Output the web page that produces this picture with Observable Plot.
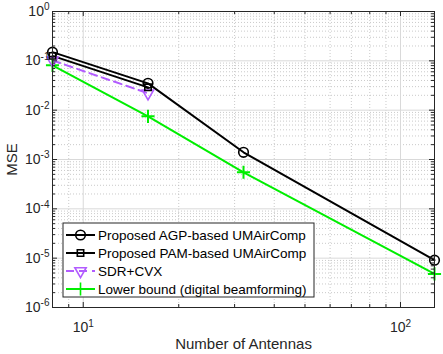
<!DOCTYPE html>
<html><head><meta charset="utf-8">
<script src="https://cdn.jsdelivr.net/npm/d3@7"></script>
<script src="https://cdn.jsdelivr.net/npm/@observablehq/plot@0.6"></script>
<style>body{margin:0;background:#fff;font-family:"Liberation Sans",Arial,sans-serif}</style>
</head><body><div id="chart"></div>
<script>
// ---- data ----
const antennas = [8, 16, 32, 128];
const agpMSE = [0.15, 0.035, 1.4e-3, 9.1e-6];
const pamAntennas = [8, 16];
const pamMSE = [0.126, 0.029];
const sdrAntennas = [8, 16];
const sdrMSE = [0.102, 0.022];
const lowerMSE = [0.081, 7.5e-3, 5.5e-4, 4.8e-6];

const seriesNames = ["Proposed AGP-based UMAirComp", "Proposed PAM-based UMAirComp", "SDR+CVX", "Lower bound (digital beamforming)"];
const xMajorTicks = [10, 100];
const xMinorTicks = [8, 9, 20, 30, 40, 50, 60, 70, 80, 90];
const yMajorTicks = [1e-6, 1e-5, 1e-4, 1e-3, 1e-2, 1e-1, 1];
const yMinorMult = [2, 3, 4, 5, 6, 7, 8, 9];
const yMinorTicks = yMajorTicks.slice(0, -1).flatMap(d => yMinorMult.map(m => m * d));

const W = 443, H = 354, ML = 52, MR = 9, MT = 11, MB = 47;
const PW = W - ML - MR, PH = H - MT - MB;
const BLACK = "#000", PURPLE = "#b25cff", GREEN = "#00ee00", AX = "#262626";

const tbl = (xs, ys) => xs.map((n, i) => ({n, v: ys[i]}));
const agp = tbl(antennas, agpMSE), pam = tbl(pamAntennas, pamMSE), sdr = tbl(sdrAntennas, sdrMSE), low = tbl(antennas, lowerMSE);

const svg = Plot.plot({
  width: W, height: H,
  marginLeft: ML, marginRight: MR, marginTop: MT, marginBottom: MB,
  style: {fontFamily: "Liberation Sans, Arial, sans-serif", color: AX, background: "#fff"},
  x: {type: "log", domain: [8, 128]},
  y: {type: "log", domain: [1e-6, 1]},
  marks: [
    // minor grid
    Plot.ruleX(xMinorTicks, {x: d => d, stroke: "#bdbdbd", strokeDasharray: "1,2", strokeWidth: 0.8}),
    Plot.ruleY(yMinorTicks, {y: d => d, stroke: "#bdbdbd", strokeDasharray: "1,2", strokeWidth: 0.8}),
    // major grid
    Plot.ruleX(xMajorTicks, {x: d => d, stroke: "#d9d9d9", strokeWidth: 1}),
    Plot.ruleY(yMajorTicks, {y: d => d, stroke: "#d9d9d9", strokeWidth: 1}),
    // series
    Plot.line(low, {x: "n", y: "v", stroke: GREEN, strokeWidth: 2}),
    Plot.line(sdr, {x: "n", y: "v", stroke: PURPLE, strokeWidth: 2, strokeDasharray: "8,5"}),
    Plot.line(pam, {x: "n", y: "v", stroke: BLACK, strokeWidth: 2}),
    Plot.line(agp, {x: "n", y: "v", stroke: BLACK, strokeWidth: 2}),
    Plot.dot(low, {x: "n", y: "v", symbol: "plus", r: 4.3, stroke: GREEN, strokeWidth: 2}),
    Plot.dot(sdr, {x: "n", y: "v", symbol: "triangle", rotate: 180, r: 4.2, stroke: PURPLE, strokeWidth: 1.6, fill: "none"}),
    Plot.dot(pam, {x: "n", y: "v", symbol: "square", r: 3.6, stroke: BLACK, strokeWidth: 1.6, fill: "none"}),
    Plot.dot(agp, {x: "n", y: "v", symbol: "circle", r: 4.8, stroke: BLACK, strokeWidth: 1.6, fill: "none"}),
    // inward ticks (box on)
    Plot.tickX(xMajorTicks, {x: d => d, insetTop: PH - 5, stroke: AX}),
    Plot.tickX(xMajorTicks, {x: d => d, insetBottom: PH - 5, stroke: AX}),
    Plot.tickX(xMinorTicks, {x: d => d, insetTop: PH - 3, stroke: AX}),
    Plot.tickX(xMinorTicks, {x: d => d, insetBottom: PH - 3, stroke: AX}),
    Plot.tickY(yMajorTicks, {y: d => d, insetRight: PW - 5, stroke: AX}),
    Plot.tickY(yMajorTicks, {y: d => d, insetLeft: PW - 5, stroke: AX}),
    Plot.tickY(yMinorTicks, {y: d => d, insetRight: PW - 3, stroke: AX}),
    Plot.tickY(yMinorTicks, {y: d => d, insetLeft: PW - 3, stroke: AX}),
    Plot.frame({stroke: AX, strokeWidth: 1}),
    // axes
    Plot.axisX({ticks: xMajorTicks, tickFormat: d => "10^" + Math.round(Math.log10(d)), tickSize: 0, tickPadding: 15, fontSize: 14,
      label: "Number of Antennas", labelAnchor: "center", labelArrow: "none", labelOffset: 41}),
    Plot.axisY({ticks: yMajorTicks, tickFormat: d => "10^" + Math.round(Math.log10(d)), tickSize: 0, tickPadding: 3, fontSize: 14,
      label: "MSE", labelAnchor: "center", labelArrow: "none", labelOffset: 46})
  ]
});

// superscripts on tick labels
function supify(node) {
  const t = d3.select(node);
  const s = t.text();
  if (s.startsWith("10^")) {
    const exp = s.slice(3);
    t.text("10");
    const host = node.tagName === "tspan" ? d3.select(node.parentNode) : t;
    host.append("tspan").attr("dy", "-0.55em").attr("font-size", "10px").text(exp);
  }
}
d3.select(svg).selectAll("text").each(function() {
  const tsp = d3.select(this).selectAll("tspan");
  if (tsp.size() === 0) supify(this); else tsp.nodes().forEach(supify);
});
// axis label sizes
d3.select(svg).selectAll('g[aria-label="x-axis label"] text, g[aria-label="y-axis label"] text').attr("font-size", "15px").attr("fill", AX);

// legend (inside plot, lower left)
const lg = d3.select(svg).append("g").attr("font-size", "13.5px").attr("fill", "#000").attr("text-anchor", "start");
const lx = 63, ly = 223, lw = 251, lh = 74;
lg.append("rect").attr("x", lx).attr("y", ly).attr("width", lw).attr("height", lh).attr("fill", "#fff").attr("stroke", AX).attr("stroke-width", 1);
const styles = [
  {stroke: BLACK, dash: null, sym: d3.symbolCircle, r: 4.8},
  {stroke: BLACK, dash: null, sym: d3.symbolSquare, r: 3.6},
  {stroke: PURPLE, dash: "8,5", sym: d3.symbolTriangle, r: 4.2, rot: 180},
  {stroke: GREEN, dash: null, sym: d3.symbolPlus, r: 4.3}
];
seriesNames.forEach((name, i) => {
  const y = ly + 12 + i * 18;
  const s = styles[i];
  lg.append("line").attr("x1", lx + 3).attr("x2", lx + 32).attr("y1", y).attr("y2", y)
    .attr("stroke", s.stroke).attr("stroke-width", 2).attr("stroke-dasharray", s.dash);
  lg.append("path").attr("d", d3.symbol(s.sym, Math.PI * s.r * s.r)())
    .attr("transform", `translate(${lx + 17.5},${y})` + (s.rot ? ` rotate(${s.rot})` : ""))
    .attr("fill", "none").attr("stroke", s.stroke).attr("stroke-width", 1.6);
  lg.append("text").attr("x", lx + 35).attr("y", y).attr("dy", "0.35em").attr("text-anchor", "start").text(name);
});

document.getElementById("chart").appendChild(svg);
</script>
</body></html>
